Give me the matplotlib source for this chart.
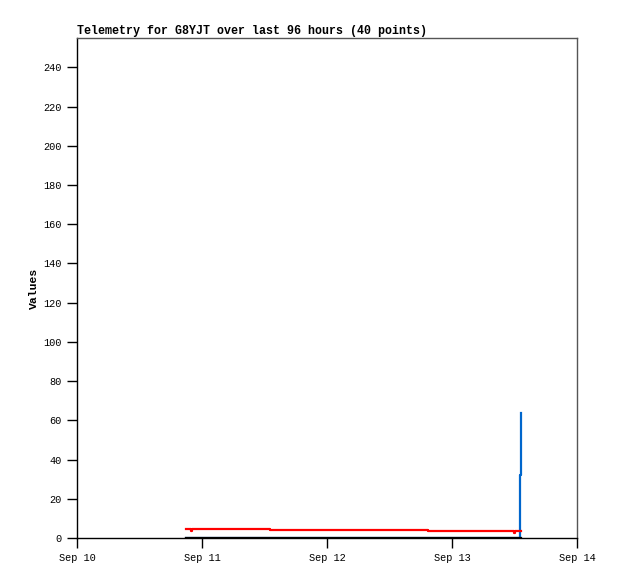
import matplotlib
matplotlib.use("Agg")
import matplotlib.pyplot as plt
import matplotlib.dates as mdates
import pandas as pd

# hours after Sep 10 00:00 for each sample
HOURS = [20.9, 21.9, 22.1, 26.0, 31.0, 37.1, 44.0, 52.0, 60.0, 67.4,
         75.0, 83.9, 84.1, 85.0, 85.2]
RED = [4.7, 3.5, 4.7, 4.7, 4.7, 4.2, 4.2, 4.2, 4.2, 3.7,
       3.7, 2.8, 3.7, 3.7, 3.7]
BLACK = [0.2] * 15
BLUE = [0, 0, 0, 0, 0, 0, 0, 0, 0, 0, 0, 0, 0, 32, 64]

DAYS = ["2023-09-10", "2023-09-11", "2023-09-12", "2023-09-13", "2023-09-14"]
YTICKS = list(range(0, 241, 20))

MONO = ["Liberation Mono", "DejaVu Sans Mono"]

t0 = pd.Timestamp(DAYS[0])
times = [t0 + pd.Timedelta(hours=h) for h in HOURS]

fig = plt.figure(figsize=(6.18, 5.79), dpi=100)
ax = fig.add_axes([77 / 618, 41 / 579, 500 / 618, 500 / 579])

ax.step(times, BLUE, where="post", color="#0066cc", linewidth=1.6)
ax.step(times, BLACK, where="post", color="black", linewidth=1.6)
ax.step(times, RED, where="post", color="#ff0000", linewidth=1.6)

ax.set_xlim(pd.Timestamp(DAYS[0]), pd.Timestamp(DAYS[-1]))
ax.set_ylim(0, 255)
ax.set_yticks(YTICKS)
ax.set_xticks([pd.Timestamp(d) for d in DAYS])
ax.xaxis.set_major_formatter(mdates.DateFormatter("%b %d"))

ax.tick_params(direction="out", length=7, width=1, labelsize=7.4, pad=4)
for lab in ax.get_xticklabels() + ax.get_yticklabels():
    lab.set_family(MONO)

for side in ["top", "right"]:
    ax.spines[side].set_color("#555555")
for side in ax.spines:
    ax.spines[side].set_linewidth(1)

ax.set_ylabel("Values", family=MONO, fontweight="bold", fontsize=8.2, labelpad=3)
fig.text(77 / 618, 1 - 31 / 579, "Telemetry for G8YJT over last 96 hours (40 points)",
         family=MONO, fontweight="bold", fontsize=8.4, ha="left", va="center")

fig.savefig("out.png", dpi=100, facecolor="white")
